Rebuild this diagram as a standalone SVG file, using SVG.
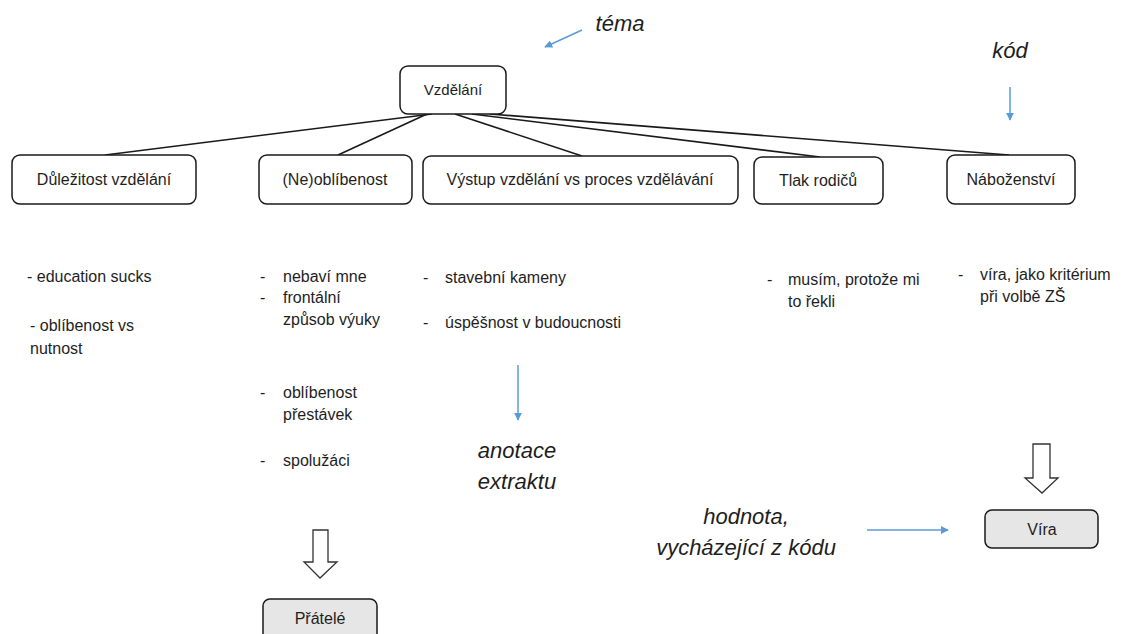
<svg xmlns="http://www.w3.org/2000/svg" width="1126" height="634" viewBox="0 0 1126 634">
  <defs>
    <style>
      .box { fill: #ffffff; stroke: #1a1a1a; stroke-width: 1.5; }
      .grey { fill: #e6e6e6; stroke: #1a1a1a; stroke-width: 1.5; }
      .lbl { font-family: "Liberation Sans", Arial, sans-serif; font-size: 16px; fill: #1e1e1e; }
      .mid { text-anchor: middle; }
      .note { font-family: "Liberation Sans", Arial, sans-serif; font-style: italic; font-size: 22px; fill: #1e1e1e; text-anchor: middle; }
      .edge { stroke: #1a1a1a; stroke-width: 1.6; fill: none; }
      .blue { stroke: #5b9bd5; stroke-width: 1.5; fill: none; marker-end: url(#bluehead); }
      .hollow { fill: #ffffff; stroke: #333333; stroke-width: 1.3; }
    </style>
    <marker id="bluehead" viewBox="0 0 10 10" refX="9" refY="5" markerWidth="8" markerHeight="8" orient="auto" markerUnits="userSpaceOnUse">
      <path d="M0,0 L10,5 L0,10 z" fill="#5b9bd5"/>
    </marker>
  </defs>

  <rect width="1126" height="634" fill="#ffffff"/>

  <!-- tree connectors from the root topic to the codes -->
  <g id="connectors">
    <line class="edge" x1="432" y1="114" x2="105" y2="155"/>
    <line class="edge" x1="427" y1="114" x2="338" y2="155"/>
    <line class="edge" x1="455" y1="114" x2="582" y2="156"/>
    <line class="edge" x1="472" y1="114" x2="820" y2="157"/>
    <line class="edge" x1="490" y1="114" x2="1009" y2="155"/>
  </g>

  <!-- root topic -->
  <g id="node-vzdelani">
    <rect class="box" x="400" y="66" width="106" height="48" rx="8"/>
    <text class="lbl mid" x="453" y="95" style="font-size:15px">Vzdělání</text>
  </g>

  <!-- codes -->
  <g id="node-dulezitost">
    <rect class="box" x="12" y="155" width="184" height="49" rx="8"/>
    <text class="lbl mid" x="104" y="185">Důležitost vzdělání</text>
  </g>
  <g id="node-neoblibenost">
    <rect class="box" x="259" y="155" width="153" height="49" rx="8"/>
    <text class="lbl mid" x="335" y="185">(Ne)oblíbenost</text>
  </g>
  <g id="node-vystup">
    <rect class="box" x="423" y="156" width="315" height="48" rx="8"/>
    <text class="lbl mid" x="580" y="185">Výstup vzdělání vs proces vzdělávání</text>
  </g>
  <g id="node-tlak">
    <rect class="box" x="754" y="157" width="129" height="47" rx="8"/>
    <text class="lbl mid" x="818" y="186">Tlak rodičů</text>
  </g>
  <g id="node-nabozenstvi">
    <rect class="box" x="947" y="155" width="128" height="49" rx="8"/>
    <text class="lbl mid" x="1011" y="185">Náboženství</text>
  </g>

  <!-- extracts under each code -->
  <g id="extracts-dulezitost" class="lbl">
    <text x="27" y="282">- education sucks</text>
    <text x="30" y="331">- oblíbenost vs</text>
    <text x="30" y="354">nutnost</text>
  </g>
  <g id="extracts-neoblibenost" class="lbl">
    <text x="260" y="282">-</text>
    <text x="283" y="282">nebaví mne</text>
    <text x="260" y="303">-</text>
    <text x="283" y="303">frontální</text>
    <text x="283" y="325">způsob výuky</text>
    <text x="260" y="398">-</text>
    <text x="283" y="398">oblíbenost</text>
    <text x="283" y="420">přestávek</text>
    <text x="260" y="466">-</text>
    <text x="283" y="466">spolužáci</text>
  </g>
  <g id="extracts-vystup" class="lbl">
    <text x="423" y="283">-</text>
    <text x="445" y="283">stavební kameny</text>
    <text x="423" y="328">-</text>
    <text x="445" y="328">úspěšnost v budoucnosti</text>
  </g>
  <g id="extracts-tlak" class="lbl">
    <text x="767" y="285">-</text>
    <text x="788" y="285">musím, protože mi</text>
    <text x="788" y="307">to řekli</text>
  </g>
  <g id="extracts-nabozenstvi" class="lbl">
    <text x="958" y="280">-</text>
    <text x="980" y="280">víra, jako kritérium</text>
    <text x="980" y="302">při volbě ZŠ</text>
  </g>

  <!-- legend notes with blue pointers -->
  <g id="note-tema">
    <text class="note" x="620" y="31">téma</text>
    <line class="blue" x1="582" y1="30" x2="545" y2="47"/>
  </g>
  <g id="note-kod">
    <text class="note" x="1010" y="58">kód</text>
    <line class="blue" x1="1010" y1="87" x2="1010" y2="120"/>
  </g>
  <g id="note-anotace">
    <line class="blue" x1="518" y1="365" x2="518" y2="420"/>
    <text class="note" x="517" y="458">anotace</text>
    <text class="note" x="517" y="489">extraktu</text>
  </g>
  <g id="note-hodnota">
    <text class="note" x="746" y="524">hodnota,</text>
    <text class="note" x="746" y="555">vycházející z kódu</text>
    <line class="blue" x1="867" y1="530" x2="948" y2="530"/>
  </g>

  <!-- hollow block arrows to the derived values -->
  <g id="arrow-pratele">
    <path class="hollow" d="M313,530 L328,530 L328,562 L337,562 L320,578 L304,562 L313,562 Z"/>
  </g>
  <g id="arrow-vira">
    <path class="hollow" d="M1033,444 L1050,444 L1050,478 L1058,478 L1042,493 L1025,478 L1033,478 Z"/>
  </g>

  <!-- derived values -->
  <g id="node-pratele">
    <rect class="grey" x="263" y="599" width="114" height="42" rx="7"/>
    <text class="lbl mid" x="320" y="624">Přátelé</text>
  </g>
  <g id="node-vira">
    <rect class="grey" x="985" y="510" width="113" height="38" rx="7"/>
    <text class="lbl mid" x="1042" y="535">Víra</text>
  </g>
</svg>
